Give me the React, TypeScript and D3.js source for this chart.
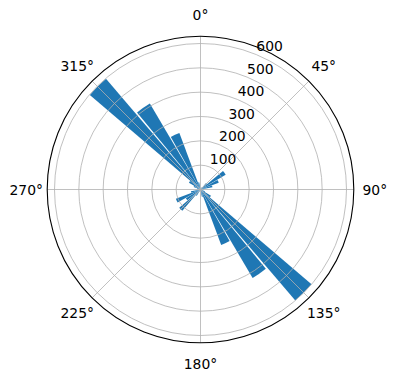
import React from "react";
import * as d3 from "d3";

// bin centers in degrees (10° bins)
const binCenters = [5, 15, 25, 35, 45, 55, 65, 75, 85, 95, 105, 115, 125, 135, 145, 155, 165, 175,
  185, 195, 205, 215, 225, 235, 245, 255, 265, 275, 285, 295, 305, 315, 325, 335, 345, 355];
const counts = [0, 0, 5, 12, 35, 120, 80, 50, 15, 5, 8, 20, 50, 600, 422, 243, 30, 5,
  0, 5, 10, 30, 115, 70, 108, 40, 15, 8, 15, 30, 55, 598, 410, 248, 30, 5];
const radialTicks = [100, 200, 300, 400, 500, 600];
const angleTicks = [0, 45, 90, 135, 180, 225, 270, 315];

const W = 396, H = 380;
const cx = 200.5, cy = 189.5, R = 153.3;
const barWidthDeg = 9;

export default function App() {
  const rmax = d3.max(counts)! * 1.05;
  const r = d3.scaleLinear().domain([0, rmax]).range([0, R]);
  const rad = (d: number) => (d * Math.PI) / 180;
  const arc = d3.arc<any>();
  const font = "DejaVu Sans, sans-serif";
  const labelAngle = rad(22.5);
  return (
    <svg width={W} height={H} style={{ position: "absolute", left: 0, top: 0 }}>
      <rect width={W} height={H} fill="white" />
      <g transform={`translate(${cx},${cy})`}>
        {binCenters.map((c, i) =>
          counts[i] > 0 ? (
            <path
              key={i}
              d={arc({
                innerRadius: 0,
                outerRadius: r(counts[i]),
                startAngle: rad(c - barWidthDeg / 2),
                endAngle: rad(c + barWidthDeg / 2),
              })!}
              fill="#1f77b4"
            />
          ) : null
        )}
        {radialTicks.map((t) => (
          <circle key={t} r={r(t)} fill="none" stroke="#b0b0b0" strokeWidth={0.8} />
        ))}
        {angleTicks.map((a) => (
          <line
            key={a}
            x1={0}
            y1={0}
            x2={R * Math.sin(rad(a))}
            y2={-R * Math.cos(rad(a))}
            stroke="#b0b0b0"
            strokeWidth={0.8}
          />
        ))}
        <circle r={R} fill="none" stroke="black" strokeWidth={1.1} />
        {angleTicks.map((a) => (
          <text
            key={a}
            x={(R + 21) * Math.sin(rad(a))}
            y={-(R + 21) * Math.cos(rad(a))}
            textAnchor="middle"
            dominantBaseline="central"
            fontFamily={font}
            fontSize={13.9}
          >
            {a}°
          </text>
        ))}
        {radialTicks.map((t) => (
          <text
            key={t}
            x={r(t) * Math.sin(labelAngle)}
            y={-r(t) * Math.cos(labelAngle) - 3.3}
            textAnchor="start"
            fontFamily={font}
            fontSize={13.9}
          >
            {t}
          </text>
        ))}
      </g>
    </svg>
  );
}
